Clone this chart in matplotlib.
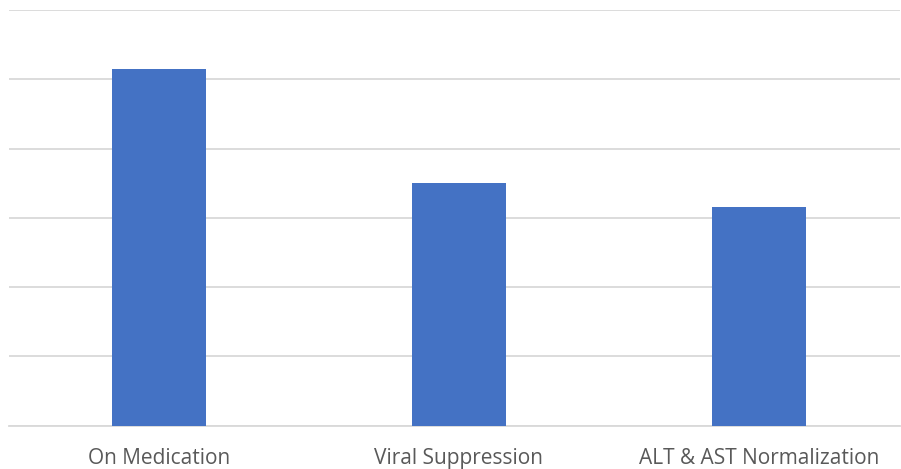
import matplotlib.pyplot as plt

categories = ["On Medication", "Viral Suppression", "ALT & AST Normalization"]
values = [51.5, 35.0, 31.5]

fig = plt.figure(figsize=(9.01, 4.69), dpi=100)
ax = fig.add_axes([9 / 901, 43.5 / 469, 891 / 901, 415.5 / 469])

x = range(len(categories))
ax.bar(x, values, width=0.313, color="#4472C4", zorder=3)

ax.set_xlim(-0.5, -0.5 + 891 / 300)
ax.set_ylim(0, 60)
ax.set_yticks(range(0, 61, 10))
ax.yaxis.grid(True, color="#D9D9D9", linewidth=1.3, zorder=0)
ax.tick_params(axis="y", left=False, labelleft=False)
ax.set_xticks(list(x))
ax.set_xticklabels(categories, fontsize=15, color="#595959", family="Open Sans")
ax.tick_params(axis="x", length=0, pad=16)
for s in ["top", "right", "left"]:
    ax.spines[s].set_visible(False)
ax.spines["bottom"].set_color("#D9D9D9")
ax.spines["bottom"].set_linewidth(1.3)

fig.savefig("out.png", dpi=100)
